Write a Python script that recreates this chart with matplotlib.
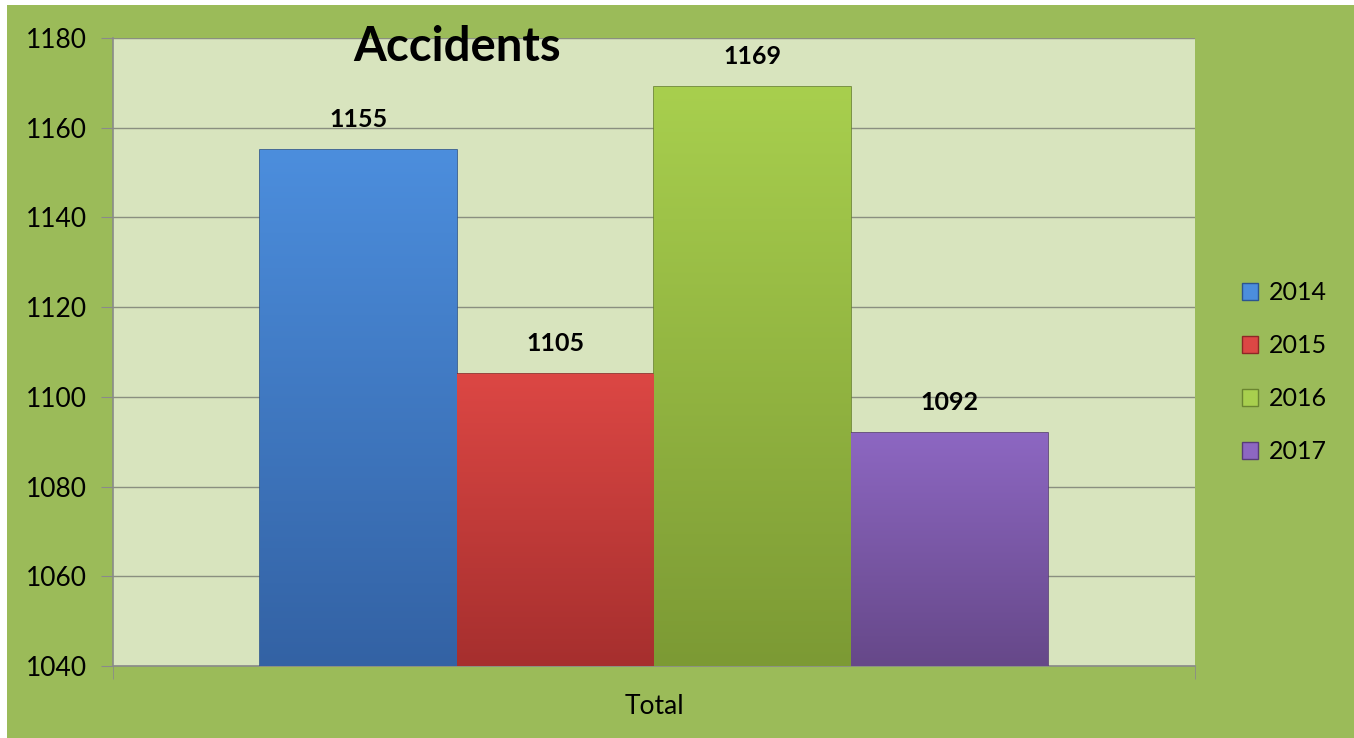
import numpy as np
import matplotlib.pyplot as plt
from matplotlib.colors import LinearSegmentedColormap
from matplotlib.patches import Rectangle, Patch

years = ["2014", "2015", "2016", "2017"]
values = [1155, 1105, 1169, 1092]
category = "Total"
top_colors = ["#4C8EDD", "#DC4744", "#A8CF4E", "#8D67C2"]
bot_colors = ["#3362A4", "#A62F2E", "#7C9A34", "#664889"]
edge_colors = ["#2C5590", "#8E2726", "#6A8530", "#573C77"]
yticks = [1040, 1060, 1080, 1100, 1120, 1140, 1160, 1180]

plt.rcParams['font.family'] = ['Lato', 'DejaVu Sans']

fig = plt.figure(figsize=(13.54, 7.38), dpi=100, facecolor="white")
# green chart area with thin white strip on left/top
fig.patches.append(Rectangle((7 / 1354, 0), 1, 1 - 5 / 738, transform=fig.transFigure,
                             facecolor="#9BBB59", edgecolor="none", zorder=-10))

ax = fig.add_axes([113 / 1354, 72 / 738, 1082 / 1354, 628 / 738])
ax.set_facecolor("#D8E4BE")

w = 0.182
ylo, yhi = yticks[0], yticks[-1]

grad = np.linspace(0, 1, 256).reshape(-1, 1)
for i, (yr, v) in enumerate(zip(years, values)):
    x = (i - 1.5) * w
    bar = ax.bar(x, v - ylo, width=w, bottom=ylo, color=top_colors[i],
                 edgecolor=edge_colors[i], linewidth=1.2, zorder=3, label=yr)[0]
    cmap = LinearSegmentedColormap.from_list("g" + yr, [bot_colors[i], top_colors[i]])
    im = ax.imshow(grad, cmap=cmap, aspect="auto", origin="lower",
                   extent=(x - w / 2, x + w / 2, ylo, v), zorder=3.5)
    im.set_clip_path(bar)
    ax.annotate(str(v), (x, v), xytext=(0, 22), textcoords="offset points",
                ha="center", va="center", fontsize=18, fontweight="bold",
                color="black", zorder=5)

ax.set_yticks(yticks)
ax.set_yticklabels([str(t) for t in yticks], fontsize=19)
ax.yaxis.grid(True, color="#8A8F80", linewidth=1, zorder=0)
ax.set_axisbelow(True)
ax.tick_params(axis="y", length=9, color="#8A8A8A", pad=10)

ax.set_xticks([0])
ax.set_xticklabels([category], fontsize=19)
ax.set_xticks([-0.5, 0.5], minor=True)
ax.tick_params(axis="x", which="major", length=0, pad=20)
ax.tick_params(axis="x", which="minor", length=9, color="#8A8A8A")

for s in ["top", "right"]:
    ax.spines[s].set_visible(False)
for s in ["left", "bottom"]:
    ax.spines[s].set_color("#8A8A8A")
    ax.spines[s].set_linewidth(1.2)

ax.set_ylim(ylo, yhi)
ax.set_xlim(-0.5, 0.5)

ax.text(0.318, 0.986, "Accidents", transform=ax.transAxes, ha="center", va="center",
        fontsize=34, fontweight="bold", color="black")

handles = [Patch(facecolor=top_colors[i], edgecolor=edge_colors[i]) for i in range(4)]
fig.legend(handles, years, loc="center left", bbox_to_anchor=(1219 / 1354, 1 - 372 / 738),
           frameon=False, fontsize=18, handlelength=0.65, handleheight=0.65,
           handletextpad=0.45, labelspacing=1.2)

fig.savefig("out.png", dpi=100, facecolor=fig.get_facecolor())
